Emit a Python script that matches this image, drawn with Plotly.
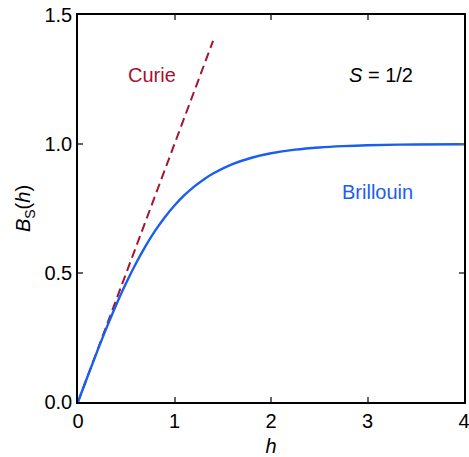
import plotly.graph_objects as go

# Brillouin curve (S = 1/2)
h_brillouin = [0, 0.1, 0.2, 0.3, 0.4, 0.5, 0.6, 0.7, 0.8, 0.9, 1.0, 1.1, 1.2, 1.3, 1.4,
               1.6, 1.8, 2.0, 2.25, 2.5, 2.75, 3.0, 3.5, 4.0]
b_brillouin = [0, 0.0997, 0.1974, 0.2913, 0.3799, 0.4621, 0.5370, 0.6044, 0.6640, 0.7163,
               0.7616, 0.8005, 0.8337, 0.8617, 0.8854, 0.9217, 0.9468, 0.9640, 0.9780,
               0.9866, 0.9918, 0.9951, 0.9982, 0.9993]

# Curie (linear) law
h_curie = [0, 1.4]
b_curie = [0, 1.4]

x_ticks = [0, 1, 2, 3, 4]
y_ticks = [0.0, 0.5, 1.0, 1.5]

blue = "#1a5ef0"
red = "#a3142f"
font = "Liberation Sans, Arial, Helvetica, sans-serif"
fs = 20

fig = go.Figure()
fig.add_trace(go.Scatter(x=h_curie, y=b_curie, mode="lines",
                         line=dict(color=red, width=2, dash="9px,5px"),
                         showlegend=False, hoverinfo="skip"))
fig.add_trace(go.Scatter(x=h_brillouin, y=b_brillouin, mode="lines",
                         line=dict(color=blue, width=2.4, shape="spline"),
                         showlegend=False, hoverinfo="skip"))

fig.add_annotation(x=0.77, y=1.267, text="Curie", showarrow=False,
                   font=dict(color=red, size=fs, family=font))
fig.add_annotation(x=3.14, y=1.267, text="<i>S</i> = 1/2", showarrow=False,
                   font=dict(color="black", size=fs, family=font))
fig.add_annotation(x=3.1, y=0.814, text="Brillouin", showarrow=False,
                   font=dict(color=blue, size=fs, family=font))

axis_common = dict(showgrid=False, zeroline=False, showline=True, linecolor="black",
                   linewidth=1.5, mirror="ticks", ticks="inside", ticklen=5,
                   tickcolor="#666", tickwidth=1.5, automargin=False,
                   ticklabeloverflow="allow",
                   tickfont=dict(size=fs, family=font, color="black"))

fig.update_xaxes(range=[0, 4], tickvals=x_ticks, ticktext=[str(v) for v in x_ticks],
                 title=dict(text="<i>h</i>", font=dict(size=fs, family=font, color="black"),
                            standoff=10),
                 **axis_common)
fig.update_yaxes(range=[0, 1.5], tickvals=y_ticks, ticktext=[f"{v:.1f}" for v in y_ticks],
                 title=dict(text="<i>B</i><sub>S</sub>(<i>h</i>)",
                            font=dict(size=fs, family=font, color="black"), standoff=8),
                 **axis_common)

fig.update_layout(width=469, height=457, margin=dict(l=78, r=5, t=15, b=55, autoexpand=False),
                  plot_bgcolor="white", paper_bgcolor="white",
                  font=dict(family=font))

fig.write_html("out.html", config={"displayModeBar": False})

with open("out.html", "r", encoding="utf-8") as f:
    html = f.read()
html = html.replace("<head>",
                    "<head><style>html,body{margin:0;padding:0;overflow:hidden;}</style>", 1)
with open("out.html", "w", encoding="utf-8") as f:
    f.write(html)
